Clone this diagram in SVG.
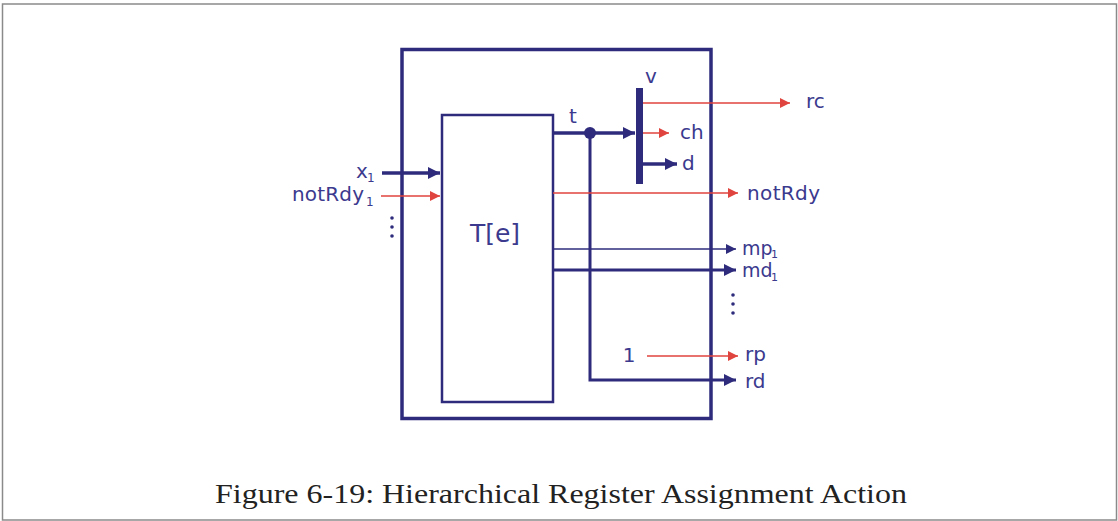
<svg xmlns="http://www.w3.org/2000/svg" width="1118" height="521" viewBox="0 0 1118 521">
<defs>
<style>
.lbl{font-family:"DejaVu Sans",Verdana,sans-serif;font-size:20px;fill:#3b3a8e}
.sub{font-family:"DejaVu Sans",Verdana,sans-serif;font-size:12px;fill:#3b3a8e}
.nv{stroke:#2e2b7c;fill:none}
.rd{stroke:#e0443e;fill:none;stroke-width:1.5}
.box{stroke:#2e2b7c;fill:none}
</style>
<marker id="an" viewBox="0 0 10 10" refX="10" refY="5" markerWidth="10" markerHeight="10" markerUnits="userSpaceOnUse" orient="auto"><path d="M0,0 L10,5 L0,10 z" fill="#2e2b7c"/></marker>
<marker id="anb" viewBox="0 0 10 10" refX="10" refY="5" markerWidth="12" markerHeight="12" markerUnits="userSpaceOnUse" orient="auto"><path d="M0,0 L10,5 L0,10 z" fill="#2e2b7c"/></marker>
<marker id="ar" viewBox="0 0 10 10" refX="10" refY="5" markerWidth="10" markerHeight="10" markerUnits="userSpaceOnUse" orient="auto"><path d="M0,0 L10,5 L0,10 z" fill="#e0443e"/></marker>
</defs>
<rect width="1118" height="521" fill="#fff"/>
<rect x="2.5" y="4" width="1114" height="516" fill="none" stroke="#8a8a8a" stroke-width="1.5"/>
<g id="outer"><rect class="box" x="402" y="49.5" width="309" height="369" stroke-width="3.5"/></g>
<g id="T"><rect class="box" x="442" y="115" width="111" height="287" stroke-width="2.5"/>
<text class="lbl" x="495" y="242" text-anchor="middle" style="font-size:25px">T[e]</text></g>
<g id="vbar"><rect x="636" y="88" width="7" height="96" fill="#2e2b7c"/><text class="lbl" x="651" y="83" text-anchor="middle">v</text></g>
<g id="connectors">
<line class="nv" x1="382" y1="173" x2="440" y2="173" stroke-width="3.5" marker-end="url(#anb)"/>
<line class="rd" x1="381" y1="196" x2="440" y2="196" marker-end="url(#ar)"/>
<line class="nv" x1="553" y1="133" x2="635" y2="133" stroke-width="3.5" marker-end="url(#anb)"/>
<circle cx="590" cy="133" r="6" fill="#2e2b7c"/>
<polyline class="nv" points="590,133 590,380 736,380" stroke-width="3" marker-end="url(#anb)"/>
<line class="rd" x1="643" y1="103" x2="790" y2="103" marker-end="url(#ar)"/>
<line class="rd" x1="643" y1="133" x2="669" y2="133" marker-end="url(#ar)"/>
<line class="nv" x1="643" y1="164" x2="677" y2="164" stroke-width="3.5" marker-end="url(#anb)"/>
<line class="rd" x1="553" y1="193" x2="738" y2="193" marker-end="url(#ar)"/>
<line class="nv" x1="553" y1="249" x2="736" y2="249" stroke-width="1.5" marker-end="url(#an)"/>
<line class="nv" x1="553" y1="270" x2="736" y2="270" stroke-width="3" marker-end="url(#anb)"/>
<line class="rd" x1="647" y1="356" x2="738" y2="356" marker-end="url(#ar)"/>
</g>
<g id="labels">
<text class="lbl" x="356" y="178">x</text><text class="sub" x="367" y="182">1</text>
<text class="lbl" x="292" y="201" textLength="72">notRdy</text><text class="sub" x="366" y="206">1</text>
<g fill="#2e2b7c"><circle cx="392" cy="218" r="1.8"/><circle cx="392" cy="227" r="1.8"/><circle cx="392" cy="236" r="1.8"/>
<circle cx="733" cy="295" r="1.8"/><circle cx="733" cy="304" r="1.8"/><circle cx="733" cy="313" r="1.8"/></g>
<text class="lbl" x="573" y="123" text-anchor="middle">t</text>
<text class="lbl" x="806" y="108">rc</text>
<text class="lbl" x="680" y="139">ch</text>
<text class="lbl" x="682" y="170">d</text>
<text class="lbl" x="747" y="200" textLength="73">notRdy</text>
<text class="lbl" x="742" y="255" style="font-size:19px">mp</text><text class="sub" x="771" y="258" style="font-size:11px">1</text>
<text class="lbl" x="742" y="277" style="font-size:19px">md</text><text class="sub" x="771" y="281" style="font-size:11px">1</text>
<text class="lbl" x="629" y="362" text-anchor="middle">1</text>
<text class="lbl" x="745" y="361">rp</text>
<text class="lbl" x="745" y="388">rd</text>
</g>
<text x="561" y="503" text-anchor="middle" textLength="692" lengthAdjust="spacingAndGlyphs" style="font-family:'Liberation Serif',serif;font-size:27px;fill:#222">Figure 6-19: Hierarchical Register Assignment Action</text>
</svg>
